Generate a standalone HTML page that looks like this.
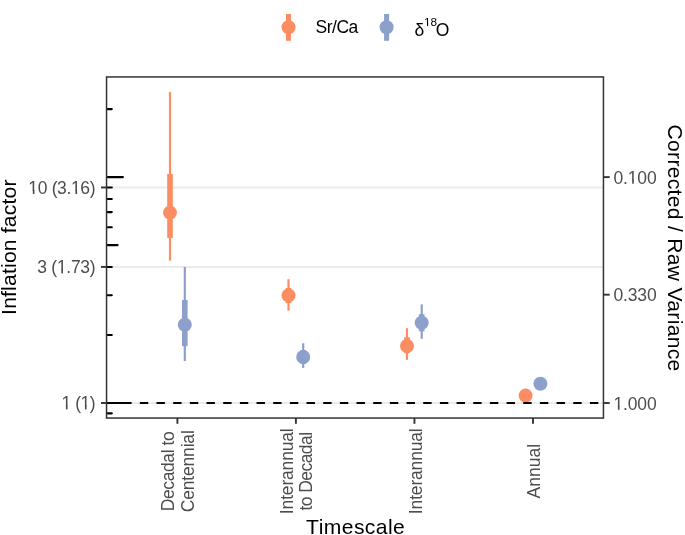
<!DOCTYPE html>
<html><head><meta charset="utf-8">
<style>
html,body{margin:0;padding:0;background:#fff;width:685px;height:535px;overflow:hidden}
svg{display:block;will-change:transform}
text{font-family:"Liberation Sans",sans-serif}
</style></head>
<body>
<svg width="685" height="535" viewBox="0 0 685 535">
<rect width="685" height="535" fill="#fff"/>
<!-- legend -->
<g>
<line x1="288.5" y1="14" x2="288.5" y2="40.8" stroke="#FC8D62" stroke-width="5"/>
<circle cx="288.5" cy="27.2" r="7" fill="#FC8D62"/>
<text x="315.6" y="32.7" font-size="17.5" fill="#000" textLength="42.7" lengthAdjust="spacing">Sr/Ca</text>
<line x1="386.6" y1="14" x2="386.6" y2="40.8" stroke="#8DA0CB" stroke-width="5"/>
<circle cx="386.6" cy="27.2" r="7" fill="#8DA0CB"/>
<text x="414.6" y="36" font-size="17.5" fill="#000">δ<tspan font-size="11.8" dy="-10" dx="-0.32">18</tspan><tspan dy="10" dx="-1.4">O</tspan></text>
</g>
<!-- gridlines -->
<g stroke="#EBEBEB" stroke-width="2">
<line x1="106.5" y1="187.45" x2="603.5" y2="187.45"/>
<line x1="106.5" y1="266.9" x2="603.5" y2="266.9"/>
<line x1="106.5" y1="403" x2="603.5" y2="403"/>
</g>
<!-- pointranges -->
<g id="pr">
<!-- group1 orange -->
<g stroke="#FC8D62" fill="#FC8D62">
<line x1="170" y1="92" x2="170" y2="260.7" stroke-width="2.2"/>
<line x1="170" y1="174" x2="170" y2="237.9" stroke-width="5.6"/>
<circle cx="170" cy="212.6" r="7" stroke="none"/>
<line x1="288.5" y1="279.2" x2="288.5" y2="310.7" stroke-width="2.2"/>
<line x1="288.5" y1="288" x2="288.5" y2="303" stroke-width="5.6"/>
<circle cx="288.5" cy="295.4" r="7" stroke="none"/>
<line x1="407" y1="328.2" x2="407" y2="359.9" stroke-width="2.2"/>
<line x1="407" y1="337.2" x2="407" y2="353.2" stroke-width="5.6"/>
<circle cx="407" cy="346" r="7" stroke="none"/>
<circle cx="525.6" cy="395.6" r="7" stroke="none"/>
</g>
<g stroke="#8DA0CB" fill="#8DA0CB">
<line x1="184.8" y1="267" x2="184.8" y2="361" stroke-width="2.2"/>
<line x1="184.8" y1="300" x2="184.8" y2="346.2" stroke-width="5.6"/>
<circle cx="184.8" cy="324.8" r="7" stroke="none"/>
<line x1="303.2" y1="343.2" x2="303.2" y2="367.9" stroke-width="2.2"/>
<line x1="303.2" y1="350" x2="303.2" y2="364" stroke-width="5.6"/>
<circle cx="303.2" cy="357" r="7" stroke="none"/>
<line x1="421.7" y1="304.4" x2="421.7" y2="338.8" stroke-width="2.2"/>
<line x1="421.7" y1="314.2" x2="421.7" y2="331.3" stroke-width="5.6"/>
<circle cx="421.7" cy="322.8" r="7" stroke="none"/>
<circle cx="540.4" cy="383.7" r="7" stroke="none"/>
</g>
</g>
<!-- dashed hline -->
<line x1="106.5" y1="403" x2="603.5" y2="403" stroke="#000" stroke-width="2.2" stroke-dasharray="8.4 8.27"/>
<!-- logticks -->
<g stroke="#000" stroke-width="2.1" stroke-linecap="round">
<line x1="107.6" y1="413.34" x2="111.8" y2="413.34"/>
<line x1="107.6" y1="403.00" x2="122.9" y2="403.00"/>
<line x1="107.6" y1="335.00" x2="111.8" y2="335.00"/>
<line x1="107.6" y1="295.22" x2="111.8" y2="295.22"/>
<line x1="107.6" y1="266.99" x2="111.8" y2="266.99"/>
<line x1="107.6" y1="245.10" x2="117.6" y2="245.10"/>
<line x1="107.6" y1="227.22" x2="111.8" y2="227.22"/>
<line x1="107.6" y1="212.09" x2="111.8" y2="212.09"/>
<line x1="107.6" y1="198.99" x2="111.8" y2="198.99"/>
<line x1="107.6" y1="187.44" x2="111.8" y2="187.44"/>
<line x1="107.6" y1="177.10" x2="122.9" y2="177.10"/>
<line x1="107.6" y1="109.10" x2="111.8" y2="109.10"/>
</g>
<!-- panel border -->
<rect x="106.55" y="76.95" width="496.9" height="341.1" fill="none" stroke="#333" stroke-width="1.5"/>
<!-- axis ticks -->
<g stroke="#333" stroke-width="1.9">
<line x1="101" y1="187.45" x2="106.5" y2="187.45"/>
<line x1="101" y1="266.9" x2="106.5" y2="266.9"/>
<line x1="101" y1="403" x2="106.5" y2="403"/>
<line x1="603.5" y1="177.1" x2="609.7" y2="177.1"/>
<line x1="603.5" y1="294.7" x2="609.7" y2="294.7"/>
<line x1="603.5" y1="403" x2="609.7" y2="403"/>
<line x1="177.4" y1="418" x2="177.4" y2="423.8"/>
<line x1="295.9" y1="418" x2="295.9" y2="423.8"/>
<line x1="414.45" y1="418" x2="414.45" y2="423.8"/>
<line x1="533" y1="418" x2="533" y2="423.8"/>
</g>
<!-- y axis labels left -->
<g font-size="17.5" fill="#4D4D4D" text-anchor="end" lengthAdjust="spacing">
<text x="95.57" y="194.0" textLength="67.2" lengthAdjust="spacing">10 (3.16)</text>
<text x="95.57" y="273.4" textLength="58.2" lengthAdjust="spacing">3 (1.73)</text>
<text x="95.57" y="409.4" textLength="34.1" lengthAdjust="spacing">1 (1)</text>
</g>
<!-- right labels -->
<g font-size="17.5" fill="#4D4D4D">
<text x="613.45" y="183.7" textLength="43.2" lengthAdjust="spacing">0.100</text>
<text x="613.45" y="301.1" textLength="43.2" lengthAdjust="spacing">0.330</text>
<text x="613.45" y="409.8" textLength="43.2" lengthAdjust="spacing">1.000</text>
</g>
<!-- x labels -->
<g font-size="17.5" fill="#4D4D4D" text-anchor="middle">
<text transform="translate(174.05,471.2) rotate(-90)" textLength="80.0" lengthAdjust="spacing">Decadal to</text>
<text transform="translate(193.7,471.2) rotate(-90)" textLength="82.0" lengthAdjust="spacing">Centennial</text>
<text transform="translate(293,471.2) rotate(-90)" textLength="85.9" lengthAdjust="spacing">Interannual</text>
<text transform="translate(311.7,471.2) rotate(-90)" textLength="78.6" lengthAdjust="spacing">to Decadal</text>
<text transform="translate(421.8,471.2) rotate(-90)" textLength="85.9" lengthAdjust="spacing">Interannual</text>
<text transform="translate(540.1,471.2) rotate(-90)" textLength="54.6" lengthAdjust="spacing">Annual</text>
</g>
<!-- titles -->
<text x="306.1" y="534" font-size="21.1" fill="#000" textLength="98.7" lengthAdjust="spacing">Timescale</text>
<text transform="translate(15.8,247.2) rotate(-90)" font-size="21.1" text-anchor="middle" fill="#000" textLength="135.5" lengthAdjust="spacing">Inflation factor</text>
<text transform="translate(668.2,247.9) rotate(90)" font-size="21.1" text-anchor="middle" fill="#000" textLength="246.8" lengthAdjust="spacing">Corrected / Raw Variance</text>
<!-- feet -->
<rect x="424.43" y="23.42" width="6.05" height="3.18" fill="#fff"/>
<rect x="427.03" y="22.52" width="1.11" height="3.48" fill="#000"/>
<rect x="28.97" y="190.99" width="8.97" height="3.61" fill="#fff"/>
<rect x="32.81" y="190.09" width="1.64" height="3.91" fill="#4D4D4D"/>
<rect x="71.59" y="190.99" width="8.97" height="3.61" fill="#fff"/>
<rect x="75.44" y="190.09" width="1.64" height="3.91" fill="#4D4D4D"/>
<rect x="57.49" y="270.39" width="8.97" height="3.61" fill="#fff"/>
<rect x="61.33" y="269.49" width="1.64" height="3.91" fill="#4D4D4D"/>
<rect x="62.07" y="406.39" width="8.97" height="3.61" fill="#fff"/>
<rect x="65.91" y="405.49" width="1.64" height="3.91" fill="#4D4D4D"/>
<rect x="81.08" y="406.39" width="8.97" height="3.61" fill="#fff"/>
<rect x="84.93" y="405.49" width="1.64" height="3.91" fill="#4D4D4D"/>
<rect x="628.35" y="180.69" width="8.97" height="3.61" fill="#fff"/>
<rect x="632.20" y="179.79" width="1.64" height="3.91" fill="#4D4D4D"/>
<rect x="614.05" y="406.79" width="8.97" height="3.61" fill="#fff"/>
<rect x="617.89" y="405.89" width="1.64" height="3.91" fill="#4D4D4D"/>
<!-- /feet -->
</svg>
</body></html>
